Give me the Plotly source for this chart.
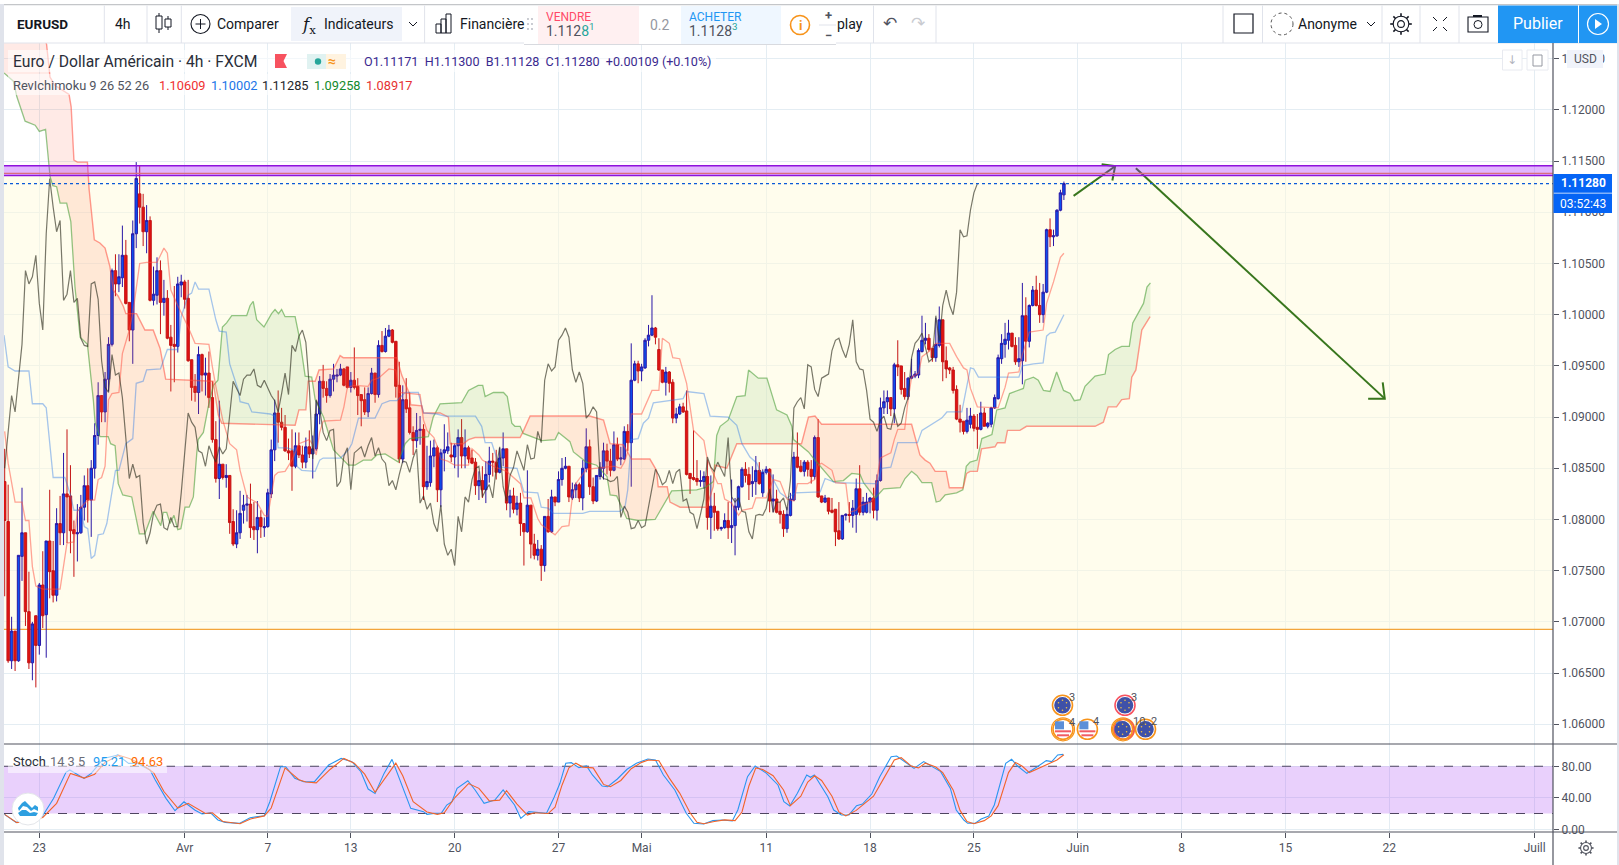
import numpy as np
import plotly.graph_objects as go

# ---------- chart data (bar number 0 = Monday 23 March, 4h bars) ----------
first_bar = -10
opens = [
1.0837,1.0798,1.0662,1.0691,1.0662,1.0764,1.0787,1.0710,1.0660,1.0706,
1.0677,1.0736,1.0707,1.0779,1.0750,1.0726,1.0796,1.0787,1.0825,1.0823,
1.0790,1.0786,1.0787,1.0812,1.0833,1.0819,1.0850,1.0882,1.0921,1.0905,
1.0937,1.0971,1.1043,1.1030,1.1036,1.1058,1.1012,1.0985,1.1079,1.1118,
1.1105,1.1081,1.1092,1.1014,1.1019,1.1043,1.1012,1.1016,1.0978,1.0971,
1.0969,1.1029,1.1032,1.1016,1.0956,1.0930,1.0924,1.0961,1.0941,1.0943,
1.0919,1.0878,1.0840,1.0854,1.0841,1.0843,1.0798,1.0776,1.0787,1.0809,
1.0814,1.0815,1.0793,1.0790,1.0802,1.0792,1.0793,1.0825,1.0868,1.0904,
1.0895,1.0890,1.0867,1.0867,1.0852,1.0872,1.0863,1.0856,1.0871,1.0864,
1.0869,1.0903,1.0935,1.0928,1.0921,1.0937,1.0940,1.0941,1.0947,1.0949,
1.0929,1.0936,1.0930,1.0922,1.0917,1.0905,1.0923,1.0943,1.0922,1.0970,
1.0964,1.0979,1.0985,1.0974,1.0931,1.0859,1.0917,1.0909,1.0885,1.0877,
1.0887,1.0888,1.0832,1.0836,1.0862,1.0870,1.0829,1.0865,1.0867,1.0863,
1.0861,1.0872,1.0880,1.0862,1.0870,1.0860,1.0856,1.0833,1.0838,1.0829,
1.0844,1.0857,1.0856,1.0846,1.0860,1.0869,1.0816,1.0823,1.0810,1.0816,
1.0796,1.0788,1.0814,1.0776,1.0765,1.0771,1.0755,1.0803,1.0788,1.0822,
1.0817,1.0839,1.0850,1.0852,1.0821,1.0829,1.0834,1.0821,1.0850,1.0871,
1.0832,1.0818,1.0842,1.0850,1.0867,1.0857,1.0848,1.0873,1.0859,1.0859,
1.0886,1.0875,1.0936,1.0952,1.0945,1.0948,1.0975,1.0980,1.0987,1.0966,
1.0946,1.0934,1.0944,1.0934,1.0899,1.0903,1.0910,1.0906,1.0845,1.0841,
1.0840,1.0837,1.0837,1.0842,1.0802,1.0813,1.0808,1.0791,1.0792,1.0799,
1.0792,1.0794,1.0812,1.0832,1.0849,1.0844,1.0835,1.0837,1.0848,1.0826,
1.0846,1.0849,1.0818,1.0820,1.0808,1.0805,1.0791,1.0804,1.0819,1.0861,
1.0852,1.0847,1.0856,1.0849,1.0842,1.0880,1.0823,1.0817,1.0821,1.0809,
1.0810,1.0789,1.0781,1.0804,1.0805,1.0804,1.0805,1.0830,1.0807,1.0807,
1.0817,1.0821,1.0809,1.0838,1.0909,1.0915,1.0919,1.0908,1.0951,1.0950,
1.0928,1.0920,1.0938,1.0940,1.0941,1.0964,1.0975,1.0977,1.0967,1.0958,
1.0970,1.0995,1.0955,1.0948,1.0946,1.0927,1.0898,1.0896,1.0886,1.0893,
1.0901,1.0890,1.0888,1.0904,1.0891,1.0893,1.0909,1.0918,1.0957,1.0971,
1.0975,1.0982,1.0970,1.0954,1.0955,1.0999,1.0974,1.1009,1.1024,1.1009,
1.1000,1.1022,1.1083,1.1076,1.1077,1.1102,1.1117]
closes = [
1.0799,1.0662,1.0691,1.0662,1.0765,1.0787,1.0710,1.0660,1.0698,1.0677,
1.0736,1.0706,1.0779,1.0749,1.0726,1.0796,1.0787,1.0825,1.0822,1.0789,
1.0786,1.0787,1.0812,1.0833,1.0819,1.0850,1.0882,1.0921,1.0905,1.0937,
1.0971,1.1043,1.1030,1.1037,1.1058,1.1011,1.0985,1.1079,1.1133,1.1105,
1.1081,1.1092,1.1014,1.1020,1.1043,1.1012,1.1016,1.0977,1.0970,1.0969,
1.1030,1.1032,1.1015,1.0955,1.0929,1.0924,1.0961,1.0941,1.0943,1.0919,
1.0878,1.0840,1.0854,1.0841,1.0843,1.0797,1.0776,1.0787,1.0806,1.0814,
1.0815,1.0792,1.0790,1.0802,1.0793,1.0793,1.0826,1.0868,1.0904,1.0895,
1.0890,1.0867,1.0865,1.0852,1.0872,1.0863,1.0856,1.0871,1.0864,1.0869,
1.0903,1.0935,1.0928,1.0921,1.0937,1.0941,1.0941,1.0947,1.0931,1.0929,
1.0936,1.0929,1.0921,1.0916,1.0905,1.0923,1.0943,1.0922,1.0970,1.0964,
1.0979,1.0985,1.0973,1.0930,1.0859,1.0917,1.0908,1.0885,1.0877,1.0887,
1.0888,1.0832,1.0837,1.0862,1.0870,1.0829,1.0865,1.0868,1.0871,1.0861,
1.0872,1.0880,1.0862,1.0870,1.0859,1.0855,1.0833,1.0838,1.0829,1.0844,
1.0857,1.0856,1.0846,1.0860,1.0869,1.0816,1.0823,1.0810,1.0816,1.0796,
1.0788,1.0814,1.0776,1.0765,1.0771,1.0755,1.0803,1.0788,1.0822,1.0817,
1.0839,1.0850,1.0852,1.0822,1.0829,1.0834,1.0821,1.0850,1.0871,1.0832,
1.0818,1.0843,1.0851,1.0867,1.0857,1.0848,1.0873,1.0859,1.0860,1.0886,
1.0875,1.0936,1.0952,1.0945,1.0949,1.0975,1.0980,1.0987,1.0978,1.0946,
1.0934,1.0944,1.0933,1.0899,1.0903,1.0910,1.0905,1.0844,1.0840,1.0839,
1.0837,1.0838,1.0842,1.0802,1.0813,1.0807,1.0791,1.0792,1.0799,1.0792,
1.0794,1.0813,1.0832,1.0849,1.0843,1.0834,1.0837,1.0848,1.0835,1.0846,
1.0849,1.0818,1.0820,1.0807,1.0805,1.0791,1.0805,1.0820,1.0861,1.0851,
1.0847,1.0856,1.0849,1.0842,1.0880,1.0822,1.0817,1.0821,1.0808,1.0807,
1.0788,1.0781,1.0804,1.0805,1.0804,1.0811,1.0830,1.0807,1.0817,1.0817,
1.0821,1.0809,1.0838,1.0909,1.0915,1.0919,1.0908,1.0951,1.0949,1.0927,
1.0920,1.0938,1.0940,1.0942,1.0965,1.0975,1.0977,1.0966,1.0958,1.0971,
1.0995,1.0954,1.0947,1.0946,1.0926,1.0898,1.0895,1.0886,1.0897,1.0901,
1.0889,1.0888,1.0904,1.0891,1.0894,1.0909,1.0919,1.0958,1.0972,1.0976,
1.0982,1.0969,1.0954,1.0957,1.0999,1.0974,1.1009,1.1024,1.1009,1.1000,
1.1022,1.1083,1.1076,1.1077,1.1102,1.1119,1.1128]
highs = [
1.0869,1.0834,1.0705,1.0691,1.0765,1.0831,1.0787,1.0749,1.0700,1.0706,
1.0738,1.0769,1.0779,1.0829,1.0779,1.0811,1.0823,1.0865,1.0888,1.0853,
1.0799,1.0815,1.0824,1.0843,1.0850,1.0858,1.0894,1.0934,1.0921,1.0944,
1.0978,1.1045,1.1059,1.1059,1.1087,1.1073,1.1012,1.1092,1.1149,1.1146,
1.1118,1.1107,1.1096,1.1047,1.1056,1.1053,1.1034,1.1024,1.0990,1.1028,
1.1037,1.1039,1.1034,1.1034,1.0956,1.0942,1.0969,1.0962,1.0958,1.0964,
1.0935,1.0896,1.0916,1.0854,1.0854,1.0843,1.0810,1.0809,1.0828,1.0824,
1.0824,1.0835,1.0817,1.0818,1.0809,1.0802,1.0830,1.0878,1.0917,1.0926,
1.0909,1.0902,1.0879,1.0888,1.0885,1.0885,1.0872,1.0880,1.0887,1.0882,
1.0916,1.0940,1.0951,1.0935,1.0942,1.0952,1.0947,1.0952,1.0948,1.0949,
1.0944,1.0968,1.0938,1.0922,1.0929,1.0929,1.0948,1.0943,1.0975,1.0984,
1.0987,1.0990,1.0986,1.0974,1.0954,1.0931,1.0938,1.0924,1.0891,1.0904,
1.0901,1.0893,1.0872,1.0877,1.0878,1.0872,1.0869,1.0893,1.0885,1.0875,
1.0874,1.0888,1.0898,1.0888,1.0872,1.0868,1.0860,1.0847,1.0852,1.0857,
1.0871,1.0865,1.0868,1.0870,1.0885,1.0869,1.0829,1.0831,1.0823,1.0826,
1.0796,1.0848,1.0814,1.0786,1.0780,1.0775,1.0803,1.0820,1.0829,1.0822,
1.0847,1.0860,1.0861,1.0852,1.0836,1.0836,1.0836,1.0858,1.0889,1.0878,
1.0841,1.0843,1.0856,1.0875,1.0874,1.0869,1.0886,1.0880,1.0871,1.0891,
1.0893,1.0972,1.0955,1.0955,1.0952,1.0977,1.0990,1.1019,1.0988,1.0977,
1.0946,1.0949,1.0945,1.0937,1.0909,1.0913,1.0914,1.0926,1.0845,1.0887,
1.0858,1.0848,1.0847,1.0858,1.0843,1.0826,1.0808,1.0793,1.0806,1.0817,
1.0839,1.0821,1.0833,1.0851,1.0856,1.0851,1.0852,1.0862,1.0856,1.0849,
1.0852,1.0850,1.0844,1.0829,1.0817,1.0809,1.0812,1.0826,1.0866,1.0885,
1.0858,1.0858,1.0858,1.0858,1.0882,1.0898,1.0823,1.0824,1.0821,1.0821,
1.0810,1.0817,1.0804,1.0806,1.0817,1.0819,1.0840,1.0853,1.0822,1.0826,
1.0822,1.0831,1.0844,1.0919,1.0926,1.0926,1.0919,1.0953,1.0975,1.0950,
1.0944,1.0939,1.0957,1.0945,1.0967,1.0999,1.0992,1.0981,1.0967,1.0997,
1.1008,1.0995,1.0969,1.0949,1.0949,1.0931,1.0912,1.0896,1.0909,1.0909,
1.0903,1.0903,1.0915,1.0909,1.0895,1.0910,1.0922,1.0961,1.0981,1.0992,
1.0995,1.0982,1.0978,1.0978,1.1031,1.1017,1.1010,1.1028,1.1038,1.1031,
1.1030,1.1084,1.1094,1.1083,1.1103,1.1122,1.1130]
lows = [
1.0725,1.0660,1.0654,1.0652,1.0661,1.0740,1.0696,1.0654,1.0643,1.0636,
1.0668,1.0694,1.0665,1.0723,1.0719,1.0720,1.0775,1.0775,1.0777,1.0767,
1.0744,1.0759,1.0786,1.0799,1.0797,1.0783,1.0840,1.0873,1.0895,1.0895,
1.0925,1.0969,1.1018,1.1022,1.1027,1.1010,1.0974,1.0952,1.1065,1.1089,
1.1067,1.1060,1.1013,1.1009,1.1010,1.0981,1.0999,1.0976,1.0925,1.0934,
1.0963,1.1017,1.1006,1.0954,1.0916,1.0915,1.0903,1.0925,1.0921,1.0909,
1.0875,1.0836,1.0820,1.0839,1.0831,1.0786,1.0774,1.0772,1.0781,1.0796,
1.0798,1.0782,1.0780,1.0767,1.0782,1.0783,1.0792,1.0821,1.0857,1.0875,
1.0887,1.0866,1.0858,1.0828,1.0850,1.0860,1.0850,1.0850,1.0860,1.0840,
1.0867,1.0893,1.0919,1.0914,1.0919,1.0925,1.0934,1.0940,1.0930,1.0928,
1.0924,1.0927,1.0902,1.0891,1.0902,1.0900,1.0922,1.0914,1.0919,1.0963,
1.0963,1.0978,1.0972,1.0919,1.0855,1.0855,1.0904,1.0883,1.0863,1.0870,
1.0873,1.0819,1.0829,1.0832,1.0851,1.0817,1.0812,1.0847,1.0864,1.0856,
1.0850,1.0841,1.0850,1.0850,1.0855,1.0854,1.0824,1.0819,1.0821,1.0816,
1.0836,1.0842,1.0839,1.0845,1.0852,1.0809,1.0802,1.0806,1.0804,1.0784,
1.0755,1.0787,1.0762,1.0761,1.0760,1.0740,1.0749,1.0787,1.0787,1.0813,
1.0817,1.0833,1.0849,1.0817,1.0819,1.0821,1.0817,1.0809,1.0846,1.0824,
1.0815,1.0817,1.0839,1.0839,1.0844,1.0842,1.0847,1.0857,1.0853,1.0858,
1.0867,1.0832,1.0935,1.0933,1.0935,1.0947,1.0969,1.0979,1.0971,1.0945,
1.0933,1.0921,1.0924,1.0894,1.0894,1.0902,1.0904,1.0843,1.0825,1.0838,
1.0833,1.0832,1.0830,1.0790,1.0781,1.0789,1.0789,1.0789,1.0791,1.0781,
1.0777,1.0765,1.0809,1.0831,1.0836,1.0819,1.0822,1.0824,1.0834,1.0822,
1.0844,1.0807,1.0807,1.0806,1.0796,1.0783,1.0787,1.0803,1.0818,1.0850,
1.0846,1.0842,1.0842,1.0835,1.0839,1.0821,1.0816,1.0816,1.0805,1.0806,
1.0774,1.0780,1.0780,1.0799,1.0797,1.0792,1.0787,1.0804,1.0804,1.0806,
1.0806,1.0801,1.0799,1.0837,1.0903,1.0903,1.0901,1.0894,1.0940,1.0922,
1.0917,1.0917,1.0937,1.0938,1.0938,1.0963,1.0971,1.0964,1.0954,1.0954,
1.0968,1.0935,1.0938,1.0942,1.0923,1.0897,1.0885,1.0883,1.0884,1.0889,
1.0886,1.0869,1.0887,1.0891,1.0889,1.0890,1.0908,1.0917,1.0952,1.0958,
1.0966,1.0968,1.0951,1.0949,1.0932,1.0954,1.0968,1.1008,1.1008,1.0992,
1.0992,1.1021,1.1066,1.1067,1.1076,1.1101,1.1112]

tenkan_bars = [-10,-9,-7,-5,-4,-3,-2,-1,1,6,8,10,11,14,16,17,18,19,20,21,23,24,26,27,29,31,34,36,37,38,40,43,45,49,50,51,53,55,57,58,60,63,65,66,68,69,71,73,75,78,79,80,81,82,87,88,89,91,95,96,98,100,101,103,104,110,111,112,114,115,116,118,120,124,125,127,128,131,135,139,140,142,143,144,145,149,151,153,154,155,158,166,168,169,170,171,174,177,179,180,182,183,185,187,189,192,193,196,197,198,200,202,203,206,207,210,212,214,216,218,219,222,224,225,226,229,230,233,234,236,237,240,241,243,246,247,248,250,251,252,254,255,257,259,263,265,267,268,269,271,277,279,280,283,284,286,290,291,293,295,296]
tenkan_vals = [1.0886,1.0855,1.0817,1.0817,1.0799,1.0799,1.0754,1.0735,1.0732,1.0732,1.0777,1.0778,1.0808,1.0819,1.0819,1.0839,1.0841,1.0852,1.0917,1.0923,1.0924,1.0962,1.0985,1.1001,1.1050,1.1051,1.1051,1.1065,1.1060,1.1024,1.1009,1.0988,1.0972,1.0971,1.0949,1.0930,1.0897,1.0874,1.0868,1.0848,1.0822,1.0816,1.0804,1.0803,1.0843,1.0846,1.0847,1.0858,1.0874,1.0878,1.0873,1.0863,1.0885,1.0896,1.0897,1.0910,1.0929,1.0931,1.0930,1.0936,1.0938,1.0944,1.0947,1.0946,1.0924,1.0922,1.0897,1.0887,1.0880,1.0871,1.0859,1.0857,1.0853,1.0853,1.0869,1.0863,1.0858,1.0852,1.0847,1.0835,1.0821,1.0821,1.0812,1.0801,1.0795,1.0785,1.0793,1.0794,1.0822,1.0835,1.0849,1.0852,1.0850,1.0856,1.0866,1.0903,1.0903,1.0926,1.0926,1.0977,1.0972,1.0958,1.0957,1.0933,1.0887,1.0877,1.0858,1.0835,1.0835,1.0820,1.0816,1.0804,1.0809,1.0811,1.0821,1.0821,1.0839,1.0837,1.0820,1.0818,1.0835,1.0835,1.0839,1.0853,1.0855,1.0848,1.0836,1.0835,1.0807,1.0809,1.0813,1.0817,1.0820,1.0860,1.0865,1.0878,1.0888,1.0888,1.0917,1.0939,1.0943,1.0959,1.0964,1.0972,1.0972,1.0959,1.0948,1.0946,1.0928,1.0910,1.0909,1.0929,1.0943,1.0944,1.0961,1.0983,1.0985,1.1011,1.1032,1.1056,1.1060]

kijun_bars = [-10.2,-9,-7,-3,-2,1,2,4,7.4,9,10,12,13,14,15,16,17,18.5,19.5,21,22,23,25,27,28,30,31,35,37,40,41,43,44,45,46,49,51,52,54,55,57.5,58,60.4,61.4,66.7,68,69,71.5,73.4,74.4,75.8,79.7,81,82,87,89.3,90.3,92.2,97,99,101.3,103.3,105.7,109.5,111,114.8,117.2,126,127.8,128.8,130.7,133,138,140,144,145,147,148.5,157,159,167.8,169.2,170,171,173,174.5,176,177.4,179.3,186,187,192,193.8,199,201.5,203,205.3,207.3,208.2,211,214,216,218.4,225.6,227,230,241,242,243.4,246,248,253.7,255,257.4,260.7,262.2,266.5,269,270,271.3,283,284,287.2,290,291,292,293.5,296]
kijun_vals = [1.0980,1.0949,1.0945,1.0945,1.0913,1.0913,1.0909,1.0841,1.0841,1.0824,1.0809,1.0809,1.0793,1.0791,1.0762,1.0765,1.0785,1.0786,1.0796,1.0829,1.0848,1.0848,1.0874,1.0879,1.0933,1.0935,1.0946,1.0947,1.0966,1.0966,1.0998,1.1019,1.1021,1.1032,1.1025,1.1025,1.0995,1.0984,1.0983,1.0952,1.0926,1.0915,1.0913,1.0905,1.0903,1.0901,1.0870,1.0870,1.0868,1.0852,1.0848,1.0847,1.0858,1.0860,1.0860,1.0868,1.0874,1.0899,1.0899,1.0913,1.0916,1.0916,1.0924,1.0924,1.0904,1.0903,1.0901,1.0901,1.0891,1.0875,1.0875,1.0851,1.0850,1.0827,1.0826,1.0812,1.0811,1.0806,1.0806,1.0808,1.0808,1.0812,1.0829,1.0878,1.0879,1.0894,1.0899,1.0914,1.0915,1.0918,1.0925,1.0923,1.0901,1.0900,1.0892,1.0874,1.0861,1.0855,1.0847,1.0846,1.0826,1.0821,1.0826,1.0827,1.0840,1.0836,1.0835,1.0835,1.0850,1.0851,1.0875,1.0875,1.0887,1.0892,1.0899,1.0905,1.0905,1.0948,1.0947,1.0939,1.0939,1.0950,1.0952,1.0953,1.0979,1.0982,1.0983,1.1000]

span_a_bars = [-10.2,-7.5,-6.5,-4.1,-1.2,0,1.8,3.1,3.9,5,6,7.9,9.1,10.3,11.8,13.9,15.6,16.1,17.5,19.9,20.6,21.9,22.8,24.1,26.7,28.9,30.5,32.9,35.1,35.8,36.8,37.8,38.9,40,40.9,42.1,43.3,44.5,45.5,45.9,47.4,48.8,50.3,51.6,52.9,54.1,55.6,59.9,60.9,61.8,62.8,64.9,67.1,68.1,69.1,70,71,73.9,75.3,76.8,78.7,79.7,82.1,85,89.3,91.2,93.6,96,97.5,99.9,103.7,105.7,107.1,112.4,113.8,115.8,122,124,126.8,128.1,128.8,131.2,134.1,135.2,136.5,137.4,138.9,139.8,145.2,149,150,153.3,154.3,156.2,158,161,164,164.9,166.8,169.7,173,177.9,180.3,181.7,182.7,189.9,192.3,194.7,195.7,196.7,199,201.5,203.9,204.9,207.7,210.2,213,216,217.4,217.9,222.2,223.6,229.4,232.3,234.7,237.1,238.1,241.5,243.9,248.7,250.1,252,253.5,255,257.8,259.1,260.2,261.7,265,266.8,267.8,268.9,270.9,272.3,275.2,276.6,279,280.3,284.3,284.8,287.2,288.6,290.1,292,293.9,295.9,297.8,299,300.7,302.1,305,307.9,308.9,310.8,312.7,314.9,315.9,319,320,321]
span_a_vals = [1.1236,1.1228,1.1213,1.1189,1.1185,1.1179,1.1181,1.1135,1.1126,1.1125,1.1109,1.1109,1.1091,1.1027,1.0978,1.0971,1.0917,1.0895,1.0881,1.0881,1.0874,1.0872,1.0835,1.0824,1.0822,1.0786,1.0786,1.0808,1.0794,1.0807,1.0807,1.0796,1.0804,1.0790,1.0791,1.0812,1.0812,1.0822,1.0865,1.0878,1.0885,1.0910,1.0931,1.0936,1.0988,1.0992,1.0999,1.0999,1.1009,1.1013,1.0995,1.0988,1.1001,1.1005,1.1001,1.1005,1.0998,1.0998,1.0975,1.0940,1.0939,1.0917,1.0900,1.0868,1.0853,1.0853,1.0858,1.0858,1.0863,1.0864,1.0856,1.0874,1.0879,1.0881,1.0900,1.0913,1.0914,1.0926,1.0931,1.0931,1.0920,1.0924,1.0924,1.0920,1.0894,1.0891,1.0891,1.0884,1.0877,1.0878,1.0885,1.0876,1.0866,1.0861,1.0856,1.0853,1.0842,1.0824,1.0823,1.0801,1.0799,1.0800,1.0814,1.0822,1.0828,1.0829,1.0831,1.0837,1.0882,1.0891,1.0897,1.0920,1.0921,1.0946,1.0938,1.0938,1.0907,1.0902,1.0891,1.0878,1.0866,1.0860,1.0837,1.0838,1.0845,1.0844,1.0836,1.0821,1.0830,1.0831,1.0840,1.0847,1.0843,1.0836,1.0836,1.0817,1.0818,1.0824,1.0826,1.0829,1.0852,1.0856,1.0858,1.0879,1.0883,1.0907,1.0909,1.0923,1.0928,1.0936,1.0939,1.0936,1.0926,1.0925,1.0944,1.0926,1.0923,1.0916,1.0917,1.0930,1.0940,1.0942,1.0961,1.0966,1.0969,1.0969,1.0992,1.1011,1.1027,1.1031]

span_b_bars = [-10.2,2.1,3.1,4.5,8.6,9.2,10,11,13.9,14.4,15.9,17.5,19,20.4,21.4,22.8,24.3,25,28.1,30.5,32.9,34.9,36.5,44,50.2,51.7,52.7,73.9,75,77,77.7,79.7,80.8,85,86.9,87.8,103.3,104.7,106.9,107.3,110.5,111,115.8,118.2,118.7,122.5,124,125.9,138.9,139.8,141.8,159,163,164.9,168.7,171.1,176.4,178.3,178.8,181.4,182.2,185.1,192.8,194.7,195.2,198.6,201.5,220.2,222.2,224.1,226,252,254.4,255.9,257.3,258.8,262,262.9,266.9,267.9,268.9,271,272.2,276.1,276.8,279,279.7,283.3,285.2,305,307.4,308.8,311.2,312.7,314.9,315.6,316.8,318.5,320.9]
span_b_vals = [1.1400,1.1264,1.1232,1.1224,1.1215,1.1203,1.1151,1.1149,1.1149,1.1122,1.1073,1.1070,1.1065,1.1047,1.1024,1.1018,1.1008,1.1001,1.1001,1.0985,1.0985,1.0967,1.0937,1.0936,1.0935,1.0902,1.0894,1.0892,1.0907,1.0907,1.0935,1.0935,1.0946,1.0947,1.0960,1.0958,1.0958,1.0941,1.0923,1.0912,1.0911,1.0904,1.0904,1.0900,1.0874,1.0874,1.0878,1.0880,1.0880,1.0886,1.0901,1.0901,1.0897,1.0874,1.0873,1.0859,1.0859,1.0848,1.0832,1.0832,1.0817,1.0812,1.0812,1.0832,1.0853,1.0850,1.0874,1.0874,1.0900,1.0901,1.0893,1.0893,1.0863,1.0858,1.0855,1.0847,1.0847,1.0831,1.0831,1.0845,1.0847,1.0847,1.0869,1.0871,1.0875,1.0875,1.0887,1.0887,1.0891,1.0891,1.0895,1.0910,1.0910,1.0917,1.0918,1.0939,1.0946,1.0985,1.0998]

chikou_shift = 25            # the lagging line is the close plotted 25 bars back
stoch_k_bars = [-10.1,-6.7,0.8,4.1,7.7,8.8,12.9,15,18.6,22.7,25.8,28.4,32,33.5,36.6,39.2,41.8,44.9,47,49.5,51.6,53.7,57.8,60.9,65,66.6,69.7,71.2,73.8,76.4,79.5,83.6,87.2,90.3,92.9,95,97,99.6,101.9,104.2,107.3,111,112,114,116.1,117.7,119.2,120.7,123.8,125.9,128.5,131.6,134,137.3,139.1,141.4,146.5,148.6,150.4,152.1,153.7,155.9,158.1,159.8,162.6,164.2,167,169.8,172.5,175.8,178,180.3,183.6,186.9,189.1,191.9,194.6,197.4,200.2,201.8,204.6,206.8,210.1,213.4,215.1,216.8,219,221.7,222.8,223.9,227.8,229.5,231.7,233.9,236.1,237.8,240.5,242.8,246.1,247.7,250.5,252.7,255.5,258.2,260.4,263.2,264.9,267.1,268.2,270.4,272.1,274.3,275.9,279.2,280.9,282.6,285.3,288.1,290.9,292.5,294.2,295.8]
stoch_k_vals = [19,8.8,16,39,72.3,75.3,64.7,71,90,94.3,83.7,83.7,75.3,62.6,39.3,23.6,35,24.5,19.4,21,11.8,8.8,7.5,14.7,17.3,35,79.5,79.5,64.7,60.4,60.4,81.6,90,85.8,73.1,51.1,45.6,71,88.8,62.6,26.6,22.4,19,20.2,20.2,30.8,35,52,61.7,49.9,32.9,37.2,49.9,30.8,13.9,22.4,20.2,39.3,58.4,83.8,84.6,78.3,80.4,69,55,54.1,63.9,76.2,83.8,89.3,88,69,49.9,20.3,7.6,6.7,11,11.8,10.5,24.5,66.8,80.4,71.1,56.3,35.1,29.6,45.7,69,66,69,41.4,24.5,18.2,18.2,30,32.1,44.8,66.8,92.2,93,83.8,77.4,85.9,79.5,73.2,52,24.5,11.8,7.6,7.6,13.1,16.9,30.9,83.8,88.9,80.4,71.1,78.7,87.2,85.9,94.4,95.2]
stoch_d_bars = [-10,-6.5,1,5,9,13,16,19,23,26,29,33,36,40,43,45,48,50,53,58,61,65,67,71,75,77,80,84,88,91,94,97,100,103,105,108,112,115,117,120,124,127,130,133,135,138,141,143,147,149,151,153,155,157,160,163,165,168,171,174,176,179,182,185,188,190,192,195,198,201,203,205,207,209,212,215,217,220,222,224,226,229,231,233,236,238,241,244,247,249,252,254,256,259,261,264,266,268,270,273,275,277,280,282,284,286,289,292,294,296]
stoch_d_vals = [19,8.5,15,33,71,65,70,85,94,90,84,72,48,27,33,28,20,21,10,7,13,17,27,78,63,60,59,76,90,84,70,47,65,84,68,35,22,19,21,40,58,52,36,37,49,32,18,21,20,28,56,78,84,79,78,57,54,62,77,85,88,87,65,46,21,9,7,10,12,11,22,55,78,76,68,50,30,42,60,68,62,42,22,17,24,31,42,65,88,91,80,78,84,79,72,50,24,10,7,11,17,30,72,85,80,72,78,84,88,94.6]

arrow_up_bars = [298.8,310.8,None,306.9,310.8,310.0]
arrow_up_vals = [1.1116,1.1145,None,1.1147,1.1145,1.1131]
arrow_down_bars = [316.8,388.7,None,383.9,388.7,388.1]
arrow_down_vals = [1.1143,1.0918,None,1.0918,1.0918,1.0934]

price_ticks = [1.06,1.065,1.07,1.075,1.08,1.085,1.09,1.095,1.10,1.105,1.11,1.115,1.12,1.125]
stoch_ticks = [0,40,80]
stoch_tick_text = ["0.00","40.00","80.00"]
date_ticks = [0,42,66,90,120,150,174,210,240,270,300,330,360,390,432]
date_labels = ["23","Avr","7","13","20","27","Mai","11","18","25","Juin","8","15","22","Juill"]
zone_top, zone_bottom, zone_mid = 1.11455, 1.1136, 1.1138
range_top, range_bottom = 1.1136, 1.06927
last_price = 1.1128
stoch_upper, stoch_lower = 80, 20

# ---------- page geometry ----------
W, H = 1619, 865
L, R, T, B = 4, 1553, 43, 832
SEP = 744
XMIN, XMAX = -10.2, 437.3
def X(p): return (p-L)/(R-L)
def Y(p): return (B-p)/(B-T)

shapes, notes = [], []
def rect(x0,y0,x1,y1,fill=None,line=None,w=1,layer="above"):
    shapes.append(dict(type="rect",xref="paper",yref="paper",x0=X(x0),x1=X(x1),y0=Y(y0),y1=Y(y1),
        fillcolor=fill or "rgba(0,0,0,0)",line=dict(color=line or "rgba(0,0,0,0)",width=w if line else 0),layer=layer))
def seg(x0,y0,x1,y1,color,w=1,dash="solid"):
    shapes.append(dict(type="line",xref="paper",yref="paper",x0=X(x0),x1=X(x1),y0=Y(y0),y1=Y(y1),
        line=dict(color=color,width=w,dash=dash),layer="above"))
def circ(cx,cy,r,fill=None,line=None,w=1,dash="solid"):
    shapes.append(dict(type="circle",xref="paper",yref="paper",x0=X(cx-r),x1=X(cx+r),y0=Y(cy+r),y1=Y(cy-r),
        fillcolor=fill or "rgba(0,0,0,0)",line=dict(color=line or "rgba(0,0,0,0)",width=w if line else 0,dash=dash),layer="above"))
def poly(pts,fill=None,line=None,w=1):
    d="M"+" L".join(f"{X(a):.5f},{Y(b):.5f}" for a,b in pts)+" Z"
    shapes.append(dict(type="path",xref="paper",yref="paper",path=d,fillcolor=fill or "rgba(0,0,0,0)",
        line=dict(color=line or "rgba(0,0,0,0)",width=w if line else 0),layer="above"))
def text(x,y,s,size=14,color="#131722",anchor="left",font="Roboto"):
    if anchor=="left": x -= 2
    notes.append(dict(xref="paper",yref="paper",x=X(x),y=Y(y),text=s,showarrow=False,xanchor=anchor,yanchor="middle",
        font=dict(family=font,size=size,color=color),align="left"))
def gear(cx,cy,r,color):
    circ(cx,cy,r*0.78,None,color,1.1)
    circ(cx,cy,r*0.34,None,color,1.1)
    for k in range(8):
        ang = k*np.pi/4
        seg(cx+r*0.78*np.cos(ang),cy+r*0.78*np.sin(ang),cx+r*1.08*np.cos(ang),cy+r*1.08*np.sin(ang),color,1.6)

# ---------- traces ----------
bars = list(range(first_bar, first_bar+len(closes)))
assert len(opens)==len(closes)==len(highs)==len(lows)
fig = go.Figure()

grid = np.union1d(span_a_bars, span_b_bars)
a = np.interp(grid, span_a_bars, span_a_vals)
b = np.interp(grid, span_b_bars, span_b_vals)
def add_cloud(xs, ua, ub, up):
    col = "rgba(90,170,70,0.12)" if up else "rgba(255,90,60,0.13)"
    fig.add_trace(go.Scatter(x=list(xs)+list(xs)[::-1], y=list(ua)+list(ub)[::-1], mode="lines", fill="toself",
        fillcolor=col, line=dict(width=0), hoverinfo="skip", showlegend=False))
sx, sa, sb = [grid[0]], [a[0]], [b[0]]
for i in range(1, len(grid)):
    d0, d1 = a[i-1]-b[i-1], a[i]-b[i]
    if d0*d1 < 0:
        t_ = d0/(d0-d1)
        cx = grid[i-1]+t_*(grid[i]-grid[i-1]); cy = a[i-1]+t_*(a[i]-a[i-1])
        sx.append(cx); sa.append(cy); sb.append(cy)
        add_cloud(sx, sa, sb, d0 > 0)
        sx, sa, sb = [cx], [cy], [cy]
    sx.append(grid[i]); sa.append(a[i]); sb.append(b[i])
add_cloud(sx, sa, sb, a[-1] > b[-1])

fig.add_trace(go.Candlestick(x=bars, open=opens, high=highs, low=lows, close=closes, showlegend=False,
    whiskerwidth=0,
    increasing=dict(line=dict(color="#2a17a6",width=1), fillcolor="#0b50f0"),
    decreasing=dict(line=dict(color="#c41515",width=1), fillcolor="#e21212")))

def line_tr(xs, ys, color, w=1.3, xa="x", ya="y"):
    fig.add_trace(go.Scatter(x=xs, y=ys, mode="lines", line=dict(color=color, width=w), xaxis=xa, yaxis=ya,
        hoverinfo="skip", showlegend=False, connectgaps=False))
line_tr(span_a_bars, span_a_vals, "rgba(76,160,60,0.6)", 1.3)
line_tr(span_b_bars, span_b_vals, "rgba(255,75,60,0.55)", 1.4)
line_tr(kijun_bars, kijun_vals, "rgba(40,120,230,0.42)", 1.3)
line_tr(tenkan_bars, tenkan_vals, "rgba(255,75,60,0.5)", 1.3)
chikou_bars = [x-chikou_shift for x in bars if x-chikou_shift >= first_bar]
line_tr(chikou_bars, closes[len(closes)-len(chikou_bars):], "rgba(50,50,35,0.66)", 1.2)
line_tr(arrow_up_bars, arrow_up_vals, "#38761d", 2)
line_tr(arrow_down_bars, arrow_down_vals, "#38761d", 2)
line_tr(stoch_k_bars, stoch_k_vals, "#2a96f0", 1.1, "x2", "y2")
line_tr(stoch_d_bars, stoch_d_vals, "#f2642a", 1.1, "x2", "y2")

# ---------- data-anchored zones ----------
def zone(y0,y1,fill,xa="x",ya="y",layer="between"):
    shapes.append(dict(type="rect",xref=xa,yref=ya,x0=XMIN,x1=XMAX,y0=y0,y1=y1,fillcolor=fill,line=dict(width=0),layer=layer))
def hline(v,color,w,dash="solid",xa="x",ya="y",layer="between"):
    shapes.append(dict(type="line",xref=xa,yref=ya,x0=XMIN,x1=XMAX,y0=v,y1=v,line=dict(color=color,width=w,dash=dash),layer=layer))
zone(range_bottom,range_top,"rgba(255,251,221,0.52)")
hline(range_bottom,"#f3a53a",1.3)
zone(zone_bottom,zone_top,"rgba(166,29,255,0.33)",layer="above")
hline(zone_top,"#8e12dc",1.5,layer="above")
hline(zone_bottom,"#8e12dc",1.5,layer="above")
hline(zone_mid,"#d9707c",1.2,layer="above")
hline(last_price,"#0a5ad8",1.1,"dot",layer="above")
zone(stoch_lower,stoch_upper,"rgba(167,67,243,0.25)","x2","y2")
hline(stoch_upper,"#4e4560",1.1,"dash","x2","y2")
hline(stoch_lower,"#4e4560",1.1,"dash","x2","y2")

# ---------- chrome: frame ----------
rect(0,0,W,5,"#ffffff")
rect(0,4,W,5.5,"#c4c6c9")
rect(0,4,L,H,"#e0e3eb")
rect(1617,4,W,H,"#e0e3eb")
rect(4,5.5,1617,43,"#ffffff")
seg(4,43,1617,43,"#e0e3eb",1)
seg(4,SEP,1617,SEP,"#50535e",1.2)
seg(4,B,1617,B,"#50535e",1.2)
seg(R,43,R,H,"#50535e",1.2)

# toolbar separators
for sx_ in [104.3,147,181.3,424.6,873.5,936,1223,1262.5,1382,1420,1459]:
    seg(sx_,5.5,sx_,43,"#e0e3eb",1)
text(16.5,24,"<b>EURUSD</b>",13.5)
text(123,24,"4h",14,anchor="center")
# candle icon
seg(159,13,159,33,"#131722",1); rect(156,16,162,29,"#ffffff","#131722",1)
seg(168,16,168,30,"#131722",1); rect(165,19,171,27,"#ffffff","#131722",1)
circ(200.5,24,9.5,None,"#131722",1.1); seg(200.5,19,200.5,29,"#131722",1); seg(195.5,24,205.5,24,"#131722",1)
text(217,24,"Comparer",14)
rect(291,7,402,41,"#f0f3fa")
text(308,25,"<i>f</i><sub>x</sub>",17,anchor="center",font="DejaVu Serif")
text(324,24,"Indicateurs",14)
seg(409,22,413,26,"#131722",1); seg(413,26,417,22,"#131722",1)
rect(436,24,441,33,None,"#131722",1); rect(441,19,446,33,None,"#131722",1); rect(446,14,451,33,None,"#131722",1)
text(460,24,"Financière",14)
text(837,24,"play",14)
text(890,23,"↶",17,"#50535e",anchor="center",font="DejaVu Sans")
text(918,23,"↷",17,"#c9cbd1",anchor="center",font="DejaVu Sans")
rect(1234,14,1253,33,"#ffffff","#131722",1.2)
circ(1282,24,11,None,"#555",1,"dot")
text(1298,24,"Anonyme",14)
seg(1367,22,1371,26,"#131722",1); seg(1371,26,1375,22,"#131722",1)
gear(1401,24,10,"#131722")
for ax,ay,bx,by in [(1433,17,1437,21),(1447,17,1443,21),(1433,31,1437,27),(1447,31,1443,27)]:
    seg(ax,ay,bx,by,"#131722",1)
rect(1468,17,1488,32,"#ffffff","#131722",1.1); circ(1478,24.5,4,None,"#131722",1); rect(1473,15,1482,17,"#131722")
rect(1498,5.5,1578,43,"#2196f3")
text(1538,24,"Publier",16,"#ffffff",anchor="center")
rect(1579,5.5,1617,43,"#2196f3")
circ(1598,24,10.5,None,"#ffffff",1.2)
poly([(1595,19),(1595,29),(1602,24)],"#ffffff")

# trade widget
rect(524,6,836,45,"#d8dadf")
rect(524,6,835,44,"#ffffff")
for gy in [19,24,29]:
    for gx in [528,532]:
        circ(gx,gy,0.9,"#b2b5be")
rect(538,6,639,44,"#fff0f1")
rect(681,6,781,44,"#eff7ff")
text(546,16.5,"VENDRE",12,"#ff4a68")
text(546,29.5,"1.112<span style='color:#26a69a'>8</span><sup style='color:#26a69a'>1</sup>",14,"#50535e")
text(660,25,"0.2",14,"#9598a1",anchor="center")
text(689,16.5,"ACHETER",12,"#2196f3")
text(689,29.5,"1.1128<sup style='color:#26a69a'>3</sup>",14,"#50535e")
circ(800,25,9.5,None,"#f7931a",1.6)
text(800,25,"<b>i</b>",13,"#f7931a",anchor="center")
rect(819,6,836,44,"#ffffff")
seg(819,25,836,25,"#e0e3eb",1)
text(828,15.5,"<b>+</b>",13,"#50535e",anchor="center")
text(828,35,"<b>−</b>",13,"#50535e",anchor="center")

# chart legends
rect(8,50,716,72,"rgba(255,255,255,0.55)")
rect(8,74,415,95,"rgba(255,255,255,0.55)")
text(13,61.5,"Euro / Dollar Américain · 4h · FXCM",15.7,"#2a2e39")
poly([(275,54),(287,54),(283.5,61),(287,68),(275,68)],"#f7525f")
rect(307,54,346,69,"#fff3e0"); rect(307,54,326,69,"#e0f2f1")
circ(318,61.5,3.2,"#26a69a")
text(332,61,"<b>≈</b>",14,"#f7931a",anchor="center")
text(364,61.5,"O1.11171  H1.11300  B1.11128  C1.11280  +0.00109 (+0.10%)",12.6,"#3b2a8f")
text(13,85,"RevIchimoku 9 26 52 26",12.8,"#50535e")
for vx,vs,vc in [(159,"1.10609","#f03030"),(211,"1.10002","#2176e8"),(262,"1.11285","#26262a"),(314,"1.09258","#138a2c"),(366,"1.08917","#e63232")]:
    text(vx,85,vs,12.8,vc)

# top-right chart buttons and price badges
rect(1502.5,50,1522,70,"#ffffff","#e8eaf0",1)
text(1512,60,"↓",12,"#b2b5be",anchor="center",font="DejaVu Sans")
rect(1527,50,1548,70,"#ffffff","#e8eaf0",1)
rect(1533,55,1542,66,None,"#9598a1",1)
rect(1567,50,1603,68,"#f0f3fa")
text(1585,59,"USD",12,"#50535e",anchor="center")
rect(1553.5,174,1612,192.7,"#0564f5")
text(1583,183.5,"<b>1.11280</b>",12,"#ffffff",anchor="center")
rect(1553.5,193.5,1612,213,"#0564f5")
text(1583,203.5,"03:52:43",12,"#ffffff",anchor="center")

# stochastic legend and logo
rect(8,755,167,773,"rgba(255,255,255,0.55)")
text(13,761.7,"Stoch",12.8,"#2a2e39")
text(50,761.7,"14 3 5",12.8,"#6a6d78")
text(93,761.7,"95.21",12.8,"#1e9cf0")
text(131,761.7,"94.63",12.8,"#ff6a00")
circ(28,809,16,"#ffffff","#e4e6ea",1)
poly([(18,808),(22,803),(25,801),(29,805),(32,808),(35,805),(38,807),(38,811),(34,809),(31,811),(27,807),(23,806),(19,811)],"#2e9fe0")
poly([(18,813),(22,810),(26,810),(30,813),(34,812),(38,813),(36,816),(20,816)],"#2e9fe0")

# event badges
def eu(cx,cy,ring,r=8.3):
    circ(cx,cy,10,None,ring,1.6)
    circ(cx,cy,r,"#3f51a8")
    for dx,dy in [(0,-5),(4,-2.5),(4,2.5),(0,5),(-4,2.5),(-4,-2.5)]:
        circ(cx+dx,cy+dy,0.8,"#f6c445")
def us(cx,cy,ring):
    circ(cx,cy,10,None,ring,1.6)
    circ(cx,cy,8.5,"#ffffff")
    rect(cx-8,cy-8,cx+1,cy,"#5b8fd8")
    rect(cx-8,cy+1,cx+8,cy+3,"#f15b64")
    rect(cx-6,cy+5,cx+6,cy+7,"#f15b64")
eu(1062.5,705.3,"#f7931a"); text(1072,697.7,"3",11,"#50535e",anchor="center")
us(1063,729.3,"#f7931a"); circ(1063,729.3,11.5,None,"#f7931a",1.2); text(1072,722,"4",11,"#50535e",anchor="center")
us(1087.4,729.3,"#f7931a"); text(1095.8,721.7,"4",11,"#50535e",anchor="center")
eu(1125,705.3,"#f7525f"); text(1134,697.7,"3",11,"#50535e",anchor="center")
circ(1123,729.3,11.5,None,"#f7931a",1.2); us(1124,729.3,"#f7525f"); eu(1122.6,729.3,"#f7931a")
eu(1145.5,729.3,"#f7931a"); text(1138.6,721.7,"10",11,"#50535e",anchor="center"); text(1154.3,721.7,"2",11,"#50535e",anchor="center")

# time-scale gear
gear(1586,848,7,"#50535e")

grid_col = "#e4edf3"
axis_font = dict(family="Roboto", size=12, color="#50535e")
y_main_range = [1.13073-(SEP)/10240, 1.13073-T/10240]
y_st_range = [(829.3-B)/0.7875, (829.3-SEP)/0.7875]
fig.update_layout(
    width=W, height=H, autosize=False, paper_bgcolor="#ffffff", plot_bgcolor="#ffffff",
    margin=dict(l=L, r=W-R, t=T, b=H-B, pad=0), showlegend=False, boxgap=0.0, hovermode=False, dragmode=False,
    shapes=shapes, annotations=notes,
    xaxis=dict(domain=[0,1], range=[XMIN,XMAX], anchor="y", showgrid=True, gridcolor=grid_col, gridwidth=1,
        tickvals=date_ticks, showticklabels=False, ticks="", zeroline=False, rangeslider=dict(visible=False), showline=False),
    xaxis2=dict(domain=[0,1], range=[XMIN,XMAX], anchor="y2", matches="x", showgrid=True, gridcolor=grid_col, gridwidth=1,
        tickvals=date_ticks, ticktext=date_labels, ticks="outside", ticklen=5, tickcolor="#50535e", tickfont=axis_font,
        zeroline=False, showline=False, ticklabelposition="outside"),
    yaxis=dict(domain=[Y(SEP),1], range=y_main_range, anchor="x", side="right", showgrid=True, gridcolor=grid_col, gridwidth=1,
        tickvals=price_ticks, tickformat=".5f", ticks="outside", ticklen=5, tickcolor="#50535e", tickfont=axis_font,
        zeroline=False, showline=False),
    yaxis2=dict(domain=[0,Y(SEP)], range=y_st_range, anchor="x2", side="right", showgrid=True, gridcolor=grid_col, gridwidth=1,
        tickvals=stoch_ticks, ticktext=stoch_tick_text, ticks="outside", ticklen=5, tickcolor="#50535e", tickfont=axis_font,
        zeroline=False, showline=False),
)
fig.write_html("out.html", config=dict(displayModeBar=False, staticPlot=True),
               post_script="document.body.style.margin='0';document.body.style.overflow='hidden';")
